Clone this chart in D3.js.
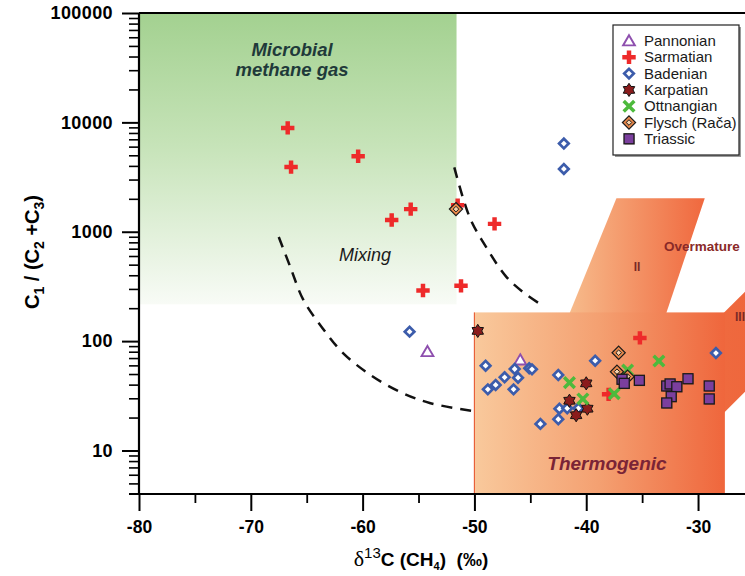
<!DOCTYPE html>
<html>
<head>
<meta charset="utf-8">
<script src="https://cdn.jsdelivr.net/npm/d3@7"></script>
<style>
  html, body { margin: 0; padding: 0; background: #fff; }
  svg { display: block; font-family: "Liberation Sans", Arial, Helvetica, sans-serif; }
</style>
</head>
<body>
<svg id="chart" width="745" height="576"></svg>
<script>
// ---- samples: [δ13C(CH4) ‰, C1/(C2+C3)] ----
const pannonian = [[-54.2, 80], [-45.9, 67]];
const sarmatian = [
  [-66.7, 8900], [-66.4, 3900], [-60.4, 4900], [-57.4, 1280], [-55.7, 1610],
  [-54.6, 290], [-51.2, 320], [-48.2, 1180], [-51.5, 1750], [-35.2, 107], [-38.0, 32.6]
];
const badenian = [
  [-42.0, 6400], [-42.0, 3750], [-55.8, 122], [-49.0, 59.6], [-46.4, 55.6],
  [-47.3, 46.7], [-46.1, 46.3], [-48.1, 39.7], [-48.8, 36.2], [-46.5, 36.2],
  [-45.1, 56.4], [-44.85, 55.2], [-42.5, 49], [-39.2, 66.2], [-42.4, 24.1],
  [-41.7, 24.3], [-40.7, 24.3], [-42.5, 19.3], [-44.1, 17.5], [-28.4, 77.8]
];
const karpatian = [[-49.7, 124], [-40.0, 41.1], [-41.5, 28.5], [-39.9, 24.1], [-40.9, 21]];
const ottnangian = [[-41.5, 41.7], [-40.3, 29.6], [-37.5, 33], [-36.3, 54.5], [-33.5, 65.8]];
const flysch = [[-51.65, 1610], [-37.1, 78.3], [-37.25, 52.5], [-36.3, 47.3]];
const triassic = [
  [-36.8, 44.8], [-36.6, 41.1], [-35.25, 43.8], [-32.8, 38.9], [-32.5, 40.6],
  [-31.9, 38.3], [-30.9, 45.3], [-32.4, 31.1], [-32.8, 27.2], [-29.0, 38.9], [-29.0, 29.6]
];

// ---- genetic fields ----
const microbialZone = [[-80, 217], [-51.6, 100000]];
const thermogenicZone = [[-50, 4], [-27.6, 183]];
const bandII = [[-41.8, 150], [-37.3, 2020], [-29.4, 2020], [-33.1, 150]];
const bandIII = [[-28.5, 150], [-20.9, 896], [-20.9, 109], [-28.5, 18.2]];

// ---- mixing boundaries ----
const mixingLower = [
  [-67.5, 896], [-66.5, 486], [-65.3, 238], [-63.6, 132], [-61.75, 77.8],
  [-59.3, 49], [-56.65, 34.3], [-54.0, 27.2], [-50.2, 23]
];
const mixingUpper = [
  [-51.8, 3880], [-50.4, 1337], [-48.9, 710], [-47.2, 393], [-45.7, 283], [-44.0, 214]
];

// ---- axes ----
const xMajor = [-80, -70, -60, -50, -40, -30];
const xMinor = [-75, -65, -55, -45, -35, -25];
const yMajor = [10, 100, 1000, 10000, 100000];
const yMajorLabels = ["10", "100", "1000", "10000", "100000"];

const legendNames = ["Pannonian", "Sarmatian", "Badenian", "Karpatian", "Ottnangian", "Flysch (Rača)", "Triassic"];

const svg = d3.select("#chart");
const x = d3.scaleLinear().domain([-80, -25.8]).range([139, 745]);
const y = d3.scaleLog().domain([4, 100000]).range([494, 13]);

const defs = svg.append("defs");
function hGrad(id, x0, x1, stops) {
  const g = defs.append("linearGradient").attr("id", id)
    .attr("gradientUnits", "userSpaceOnUse")
    .attr("x1", x0).attr("x2", x1).attr("y1", 0).attr("y2", 0);
  stops.forEach(([o, c]) => g.append("stop").attr("offset", o).attr("stop-color", c));
}
const gGreen = defs.append("linearGradient").attr("id", "gGreen")
  .attr("x1", 0).attr("x2", 0).attr("y1", 0).attr("y2", 1);
[[0, "#a3d190"], [0.45, "#c6e3b8"], [1, "#f8fbf6"]].forEach(([o, c]) =>
  gGreen.append("stop").attr("offset", o).attr("stop-color", c));
hGrad("gThermo", x(-50), x(-27.6), [[0, "#f9c99c"], [0.5, "#f4a071"], [1, "#ef663c"]]);
hGrad("gBandII", x(-41.8), x(-29.4), [[0, "#f7bd8d"], [1, "#f0683e"]]);
hGrad("gBandIII", x(-28.5), x(-20.9), [[0, "#ef6a3f"], [1, "#ee6238"]]);

// ---- fields ----
svg.append("rect")
  .attr("x", x(microbialZone[0][0])).attr("y", y(microbialZone[1][1]))
  .attr("width", x(microbialZone[1][0]) - x(microbialZone[0][0]))
  .attr("height", y(microbialZone[0][1]) - y(microbialZone[1][1]))
  .attr("fill", "url(#gGreen)");

const poly = d3.line().x(d => x(d[0])).y(d => y(d[1]));
svg.append("path").attr("d", poly(bandII) + "Z").attr("fill", "url(#gBandII)");
svg.append("path").attr("d", poly(bandIII) + "Z").attr("fill", "url(#gBandIII)");

svg.append("rect")
  .attr("x", x(thermogenicZone[0][0])).attr("y", y(thermogenicZone[1][1]))
  .attr("width", x(thermogenicZone[1][0]) - x(thermogenicZone[0][0]))
  .attr("height", y(thermogenicZone[0][1]) - y(thermogenicZone[1][1]))
  .attr("fill", "url(#gThermo)");
svg.append("line")
  .attr("x1", x(-50)).attr("x2", x(-50)).attr("y1", y(183)).attr("y2", y(4))
  .attr("stroke", "#e8603a").attr("stroke-width", 1.2);

// ---- field labels ----
svg.append("text").attr("x", 292).attr("y", 56).attr("text-anchor", "middle")
  .attr("font-size", 18.5).attr("font-weight", "bold").attr("font-style", "italic")
  .attr("fill", "#1f3a3a").text("Microbial");
svg.append("text").attr("x", 292).attr("y", 76).attr("text-anchor", "middle")
  .attr("font-size", 18.5).attr("font-weight", "bold").attr("font-style", "italic")
  .attr("fill", "#1f3a3a").text("methane gas");
svg.append("text").attr("x", 365).attr("y", 261).attr("text-anchor", "middle")
  .attr("font-size", 18).attr("font-style", "italic").attr("fill", "#1a1a1a").text("Mixing");
svg.append("text").attr("x", 607).attr("y", 470).attr("text-anchor", "middle")
  .attr("font-size", 19).attr("font-weight", "bold").attr("font-style", "italic")
  .attr("fill", "#7a2436").text("Thermogenic");
svg.append("text").attr("x", 664).attr("y", 251)
  .attr("font-size", 13.5).attr("font-weight", "bold").attr("fill", "#8a2a28").text("Overmature");
svg.append("text").attr("x", 637).attr("y", 271).attr("text-anchor", "middle")
  .attr("font-size", 12).attr("font-weight", "bold").attr("fill", "#7a2a28").text("II");
svg.append("text").attr("x", 735).attr("y", 321)
  .attr("font-size", 12).attr("font-weight", "bold").attr("fill", "#7a2a28").text("III");

// ---- mixing boundaries ----
const curve = d3.line().x(d => x(d[0])).y(d => y(d[1])).curve(d3.curveCatmullRom);
[mixingLower, mixingUpper].forEach(c => {
  svg.append("path").attr("d", curve(c)).attr("fill", "none")
    .attr("stroke", "#111").attr("stroke-width", 2.5).attr("stroke-dasharray", "11,8");
});

// ---- axes ----
const axisY0 = y(4), axisX0 = x(-80);
const styleAxis = (g, w) => {
  g.select(".domain").remove();
  g.selectAll(".tick line").attr("stroke", "#000").attr("stroke-width", w);
};
svg.append("g").attr("transform", `translate(0,${axisY0})`)
  .call(d3.axisBottom(x).tickValues(xMinor).tickSize(9).tickFormat(""))
  .call(g => styleAxis(g, 1.8));
svg.append("g").attr("transform", `translate(0,${axisY0})`)
  .call(d3.axisBottom(x).tickValues(xMajor).tickSize(17).tickPadding(10).tickFormat(d => String(d)))
  .call(g => styleAxis(g, 2))
  .call(g => g.selectAll(".tick text").attr("font-size", 17.5).attr("font-weight", "bold")
    .attr("fill", "#000").attr("font-family", "'Liberation Sans', Arial, sans-serif"));

const yMinor = [];
[1, 10, 100, 1000, 10000].forEach(dec => {
  for (let k = 2; k <= 9; k++) { const v = dec * k; if (v > 4) yMinor.push(v); }
});
svg.append("g").attr("transform", `translate(${axisX0},0)`)
  .call(d3.axisLeft(y).tickValues(yMinor).tickSize(10).tickFormat(""))
  .call(g => styleAxis(g, 1.6));
svg.append("g").attr("transform", `translate(${axisX0},0)`)
  .call(d3.axisLeft(y).tickValues(yMajor).tickSize(17).tickPadding(9)
    .tickFormat((d, i) => yMajorLabels[i]))
  .call(g => styleAxis(g, 2))
  .call(g => g.selectAll(".tick text").attr("font-size", 18).attr("font-weight", "bold")
    .attr("letter-spacing", "0.4px")
    .attr("fill", "#000").attr("font-family", "'Liberation Sans', Arial, sans-serif"));

svg.append("line").attr("x1", 129).attr("x2", 745).attr("y1", axisY0).attr("y2", axisY0)
  .attr("stroke", "#000").attr("stroke-width", 2.2);
svg.append("line").attr("x1", axisX0).attr("x2", axisX0).attr("y1", y(100000)).attr("y2", axisY0)
  .attr("stroke", "#000").attr("stroke-width", 2.2);
svg.append("line").attr("x1", axisX0).attr("x2", 745).attr("y1", y(100000)).attr("y2", y(100000))
  .attr("stroke", "#000").attr("stroke-width", 2.2);

// axis titles
const xt = svg.append("text").attr("x", 421).attr("y", 566).attr("text-anchor", "middle")
  .attr("font-size", 19).attr("font-weight", "bold").attr("fill", "#000")
  .style("white-space", "pre");
xt.append("tspan").attr("font-family", "'Liberation Serif', 'DejaVu Serif', serif")
  .attr("font-weight", "normal").attr("font-size", 22).text("δ");
xt.append("tspan").attr("font-weight", "normal").attr("font-size", 15).attr("dy", -8).text("13");
xt.append("tspan").attr("dy", 8).text("C (CH");
xt.append("tspan").attr("font-size", 11).attr("dy", 4).text("4");
xt.append("tspan").attr("dy", -4).text(")  (‰)");

const yt = svg.append("text").attr("transform", "translate(39,252) rotate(-90)")
  .attr("text-anchor", "middle").attr("font-size", 20).attr("font-weight", "bold").attr("fill", "#000")
  .style("white-space", "pre");
yt.append("tspan").text("C");
yt.append("tspan").attr("font-size", 14).attr("dy", 5).text("1");
yt.append("tspan").attr("dy", -5).text(" / (C");
yt.append("tspan").attr("font-size", 14).attr("dy", 5).text("2");
yt.append("tspan").attr("dy", -5).text(" +C");
yt.append("tspan").attr("font-size", 14).attr("dy", 5).text("3");
yt.append("tspan").attr("dy", -5).text(")");

// ---- marker painters ----
const starPath = (() => {
  const pts = [];
  for (let i = 0; i < 12; i++) {
    const r = i % 2 === 0 ? 6.6 : 4.0;
    const a = Math.PI / 6 * i - Math.PI / 2;
    pts.push([r * Math.cos(a), r * Math.sin(a)]);
  }
  return d3.line()(pts) + "Z";
})();
const painters = [
  g => g.append("path").attr("d", "M0,-5.8L5.9,4.4L-5.9,4.4Z")
        .attr("fill", "#fff").attr("stroke", "#8e4fae").attr("stroke-width", 1.9),
  g => g.append("path").attr("d", d3.symbol(d3.symbolCross, 100)())
        .attr("fill", "#ee2a2a"),
  g => g.append("path").attr("d", d3.symbol(d3.symbolSquare, 46)()).attr("transform", "rotate(45)")
        .attr("fill", "#fff").attr("stroke", "#3c5cab").attr("stroke-width", 2.7),
  g => g.append("path").attr("d", starPath)
        .attr("fill", "#8b1c1c").attr("stroke", "#111").attr("stroke-width", 1),
  g => g.append("path").attr("d", d3.symbol(d3.symbolTimes, 75)())
        .attr("fill", "none").attr("stroke", "#4dba3c").attr("stroke-width", 3.5),
  g => {
    g.append("path").attr("d", "M0,-6.6L6.6,0L0,6.6L-6.6,0Z")
      .attr("fill", "#ec8a4c").attr("stroke", "#1a1a1a").attr("stroke-width", 1.2);
    g.append("path").attr("d", "M0,-2.8L2.8,0L0,2.8L-2.8,0Z")
      .attr("fill", "#f7d2ac").attr("stroke", "#1a1a1a").attr("stroke-width", 1);
  },
  g => {
    g.append("rect").attr("x", -4.2).attr("y", -4.2).attr("width", 10).attr("height", 10)
      .attr("fill", "#5a3040").attr("opacity", 0.45);
    g.append("rect").attr("x", -5).attr("y", -5).attr("width", 10).attr("height", 10)
      .attr("fill", "#7b3f9e").attr("stroke", "#1a1a1a").attr("stroke-width", 1.3);
  }
];

const groups = [pannonian, sarmatian, badenian, karpatian, ottnangian, flysch, triassic];
groups.forEach((data, gi) => {
  svg.append("g").selectAll("g").data(data).join("g")
    .attr("transform", d => `translate(${x(d[0])},${y(d[1])})`)
    .each(function () { painters[gi](d3.select(this)); });
});

// ---- legend ----
const lg = svg.append("g");
lg.append("rect").attr("x", 615).attr("y", 27).attr("width", 126).attr("height", 130).attr("fill", "#9a9a9a");
lg.append("rect").attr("x", 613).attr("y", 25).attr("width", 126).attr("height", 130)
  .attr("fill", "#fff").attr("stroke", "#222").attr("stroke-width", 1.2);
legendNames.forEach((name, i) => {
  const cy = 41 + i * 16.3;
  const g = lg.append("g").attr("transform", `translate(629,${cy})`);
  painters[i](g);
  lg.append("text").attr("x", 644).attr("y", cy + 5).attr("font-size", 15)
    .attr("fill", "#1a1a1a").text(name);
});
</script>
</body>
</html>
